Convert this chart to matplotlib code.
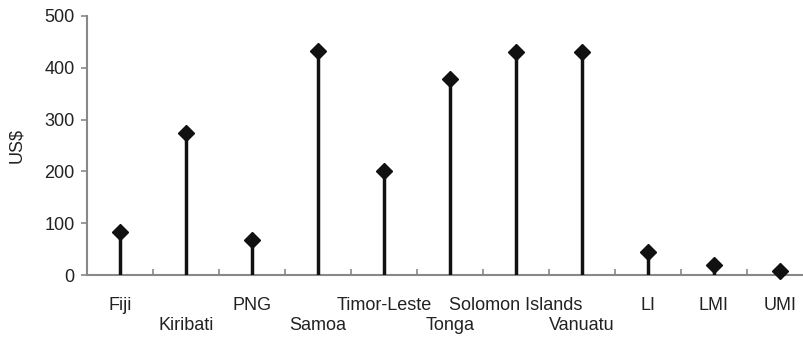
import numpy as np
import matplotlib
matplotlib.use('Agg')
import matplotlib.pyplot as plt

plt.rcParams['font.family'] = ['Liberation Sans', 'DejaVu Sans']

# data
countries = ['Fiji', 'Kiribati', 'PNG', 'Samoa', 'Timor-Leste', 'Tonga',
             'Solomon Islands', 'Vanuatu', 'LI', 'LMI', 'UMI']
values = [83, 275, 68, 433, 200, 378, 431, 431, 45, 19, 8]
lower_row = [False, True, False, True, False, True, False, True, False, False, False]
yticks = [0, 100, 200, 300, 400, 500]

fig = plt.figure(figsize=(8.04, 3.37), dpi=100)
ax = fig.add_axes([87/804, 62/337, 726/804, 259/337])

x = np.arange(len(countries))
ax.vlines(x, 0, values, color='#111111', linewidth=2.5, zorder=3)
ax.plot(x, values, linestyle='none', marker='D', markersize=8.5,
        color='#111111', zorder=4, clip_on=False)

ax.set_xlim(-0.5, len(countries) - 0.5)
ax.set_ylim(0, 500)
ax.set_yticks(yticks)
ax.tick_params(axis='y', direction='out', length=4, width=1.2, color='#888888',
               labelsize=13, labelcolor='#222222', pad=5)

# boundary ticks between categories, pointing up
ax.set_xticks(x[:-1] + 0.5)
ax.set_xticklabels([])
ax.tick_params(axis='x', direction='in', length=4, width=1.2, color='#888888')

for s in ['top', 'right']:
    ax.spines[s].set_visible(False)
for s in ['left', 'bottom']:
    ax.spines[s].set_color('#888888')
    ax.spines[s].set_linewidth(1.5)

# staggered category labels
for xi, name, low in zip(x, countries, lower_row):
    off = -50 if low else -30
    ax.annotate(name, xy=(xi, 0), xycoords=('data', 'axes fraction'),
                xytext=(0, off), textcoords='offset pixels',
                ha='center', va='center', fontsize=13, color='#222222',
                annotation_clip=False)

ax.set_ylabel('US$', fontsize=13, color='#222222', labelpad=14)

fig.savefig('out.png', dpi=100)
